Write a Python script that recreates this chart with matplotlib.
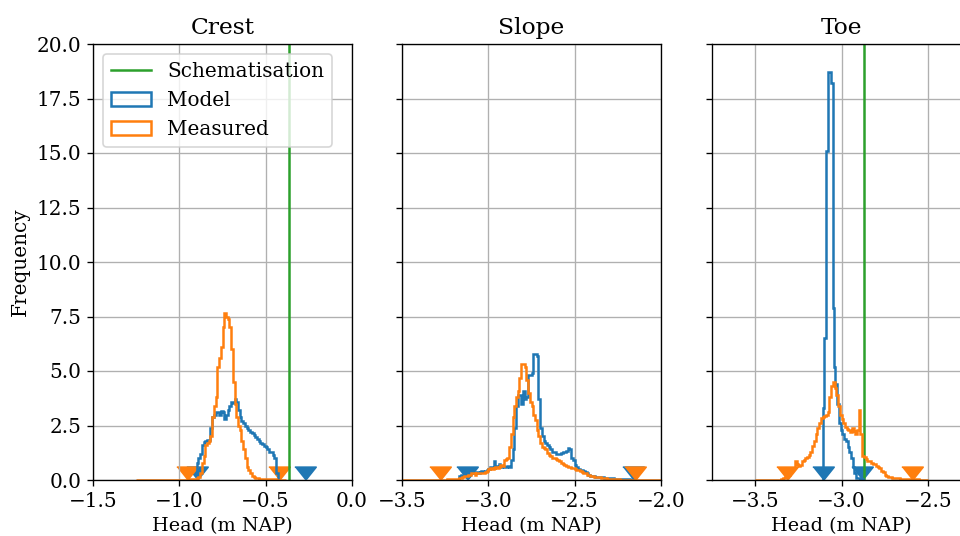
import numpy as np
import matplotlib
matplotlib.use('Agg')
import matplotlib.pyplot as plt

plt.rcParams['font.family'] = ['DejaVu Serif']
plt.rcParams['font.size'] = 12

# panel names and x ranges
panels = ['Crest', 'Slope', 'Toe']
xlims = [(-1.5, 0.0), (-3.5, -2.0), (-3.75, -2.25)]
xticks = [[-1.5, -1.0, -0.5, 0.0], [-3.5, -3.0, -2.5, -2.0], [-3.5, -3.0, -2.5]]
yticks = [0, 2.5, 5, 7.5, 10, 12.5, 15, 17.5, 20]

# schematisation heads (None = outside the plotted range)
schem = [-0.365, None, -2.870]

# histogram heights (density), given as first bin edge, bin width, heights
crest_model_start, crest_model_width = -0.90, 0.01
crest_model = [0.8, 1.0, 1.2, 1.6, 1.75, 1.8, 1.85, 1.85, 2.4, 2.9,
               3.0, 3.1, 3.1, 3.0, 3.15, 3.1, 2.8, 3.0, 3.2, 3.4,
               3.6, 3.55, 3.7, 3.6, 3.2, 2.9, 2.7, 2.6, 2.5, 2.4,
               2.3, 2.2, 2.15, 2.05, 1.95, 1.9, 1.8, 1.7, 1.65, 1.55,
               1.5, 1.4, 1.3, 1.3, 1.15, 1.0, 0.3]

crest_meas_start, crest_meas_width = -1.25, 0.01
crest_meas = ([0.02] * 30 + [0.03, 0.03, 0.04, 0.05, 0.06, 0.08, 0.12] +
              [0.3, 0.8, 1.1, 1.6, 1.7, 1.8, 2.0, 2.9, 3.4, 3.8,
               5.2, 5.6, 6.1, 7.0, 7.65, 7.5, 7.4, 7.0, 6.0, 4.5,
               3.5, 2.9, 2.5, 2.3, 1.8, 1.4, 1.0, 0.6, 0.45, 0.3,
               0.2, 0.15, 0.1, 0.08] +
              [0.06, 0.05, 0.05, 0.04, 0.04, 0.04, 0.03, 0.03,
               0.03, 0.03, 0.02, 0.02, 0.02, 0.02, 0.02, 0.02])

slope_model_start, slope_model_width = -3.17, 0.01
slope_model = ([0.2, 0.25, 0.25, 0.3, 0.3, 0.3, 0.3, 0.3, 0.3, 0.3,
                0.35, 0.3, 0.35, 0.4, 0.35, 0.4, 0.45, 0.5, 0.6, 0.55,
                0.85, 0.65, 0.6, 0.75, 0.6, 0.65, 0.6, 0.6, 0.65, 0.6,
                0.9, 1.4, 2.4, 3.4, 3.9, 3.9, 3.5, 4.1, 3.7, 3.8,
                4.8, 4.8, 4.9, 5.8, 5.8, 5.7, 3.7, 2.4, 2.0, 1.8,
                1.7, 1.6, 1.5, 1.4, 1.3, 1.3, 1.2, 1.2, 1.2, 1.25,
                1.3, 1.3, 1.35, 1.45, 1.4, 1.0, 0.9, 0.7, 0.6, 0.5,
                0.45, 0.45, 0.4, 0.35, 0.3, 0.25, 0.2] +
               [0.18, 0.17, 0.16, 0.15, 0.14, 0.13, 0.12, 0.11, 0.1, 0.09,
                0.08, 0.08, 0.07, 0.06, 0.06, 0.05, 0.05, 0.04, 0.04, 0.03,
                0.03, 0.03, 0.02, 0.02])

slope_meas_start, slope_meas_width = -3.50, 0.01
slope_meas = ([0.02] * 26 + [0.03, 0.03, 0.04, 0.04, 0.05, 0.05, 0.06, 0.08] +
              [0.1, 0.15, 0.2, 0.2, 0.25, 0.25, 0.3, 0.3, 0.25, 0.3,
               0.3, 0.3, 0.3, 0.3, 0.35, 0.4, 0.5, 0.55, 0.5, 0.55,
               0.6, 0.55, 0.6, 0.7, 0.65, 0.9, 0.95, 1.0, 1.5, 2.1,
               2.9, 3.4, 3.8, 4.1, 4.7, 5.3, 5.3, 5.2, 4.6, 4.0,
               3.6, 3.4, 3.0, 2.75, 2.3, 2.0, 1.7, 1.5, 1.45, 1.4,
               1.25, 1.15, 1.1, 1.0, 1.0, 0.95, 0.9, 0.85, 0.8, 0.75,
               0.7, 0.65, 0.6, 0.6, 0.55, 0.55, 0.5, 0.45, 0.45, 0.4,
               0.35, 0.3, 0.3, 0.25, 0.22, 0.2] +
              [0.18, 0.16, 0.15, 0.13, 0.12, 0.1, 0.09, 0.08, 0.07, 0.06] +
              [0.05, 0.05, 0.04, 0.04, 0.04, 0.03] + [0.02] * 24)

toe_model_start, toe_model_width = -3.105, 0.005
toe_model = [3.3, 6.5, 6.5, 15.1, 15.1, 18.7, 18.7, 18.7, 18.7, 18.2,
             18.2, 7.9, 5.2, 5.2, 4.4, 4.4, 3.5, 3.5, 2.6, 2.6,
             2.3, 2.3, 2.1, 2.1, 1.9, 1.9, 1.8, 1.8, 1.5, 1.5,
             1.3, 1.3, 1.0, 1.0, 0.6, 0.6, 0.3, 0.3, 0.1, 0.1,
             0.08, 0.08, 0.05, 0.05, 0.03, 0.03]

toe_meas_start, toe_meas_width = -3.50, 0.01
toe_meas = ([0.02] * 15 + [0.05, 0.08, 0.12, 0.18, 0.25] +
            [0.35, 0.45, 0.55, 0.85, 0.75, 0.65, 0.7, 0.85, 0.9, 1.0,
             1.05, 1.15, 1.3, 1.55, 1.8, 2.1, 2.4, 2.6, 2.85, 2.9,
             2.95, 3.0, 3.1, 3.8, 4.3, 4.5, 4.2, 3.9, 3.4, 3.0,
             2.8, 2.6, 2.45, 2.35, 2.3, 2.2, 2.4, 2.25, 2.1, 2.3,
             3.2, 2.1, 1.1, 1.05, 0.95, 0.85, 0.85, 0.8, 0.75, 0.75,
             0.65, 0.6, 0.55, 0.4, 0.35, 0.25, 0.2, 0.15, 0.12, 0.1] +
            [0.09, 0.08, 0.08, 0.07, 0.06, 0.06, 0.05, 0.05, 0.04, 0.04,
             0.04, 0.03, 0.03, 0.03, 0.03, 0.02, 0.02, 0.02, 0.02, 0.02])

model_hists = [(crest_model_start, crest_model_width, crest_model),
               (slope_model_start, slope_model_width, slope_model),
               (toe_model_start, toe_model_width, toe_model)]
meas_hists = [(crest_meas_start, crest_meas_width, crest_meas),
              (slope_meas_start, slope_meas_width, slope_meas),
              (toe_meas_start, toe_meas_width, toe_meas)]

# lower / upper bounds shown as triangles on the x axis
model_bounds = [[-0.898, -0.272], [-3.125, -2.160], [-3.105, -2.880]]
meas_bounds = [[-0.956, -0.423], [-3.280, -2.151], [-3.314, -2.594]]

# triangle with its tip at the data point
tri = [(-1, 1.25), (1, 1.25), (0, 0)]

fig = plt.figure(figsize=(8, 536 / 120), dpi=120)
lefts = [93 / 960, 402 / 960, 712 / 960]
axes = []
for i, name in enumerate(panels):
    kw = {} if i == 0 else {'sharey': axes[0]}
    ax = fig.add_axes([lefts[i], 56 / 536, 259 / 960, 436 / 536], **kw)
    axes.append(ax)

    if schem[i] is not None:
        ax.axvline(schem[i], color='tab:green', lw=1.5, label='Schematisation')

    for (start, width, h), col, lab in [(model_hists[i], 'tab:blue', 'Model'),
                                        (meas_hists[i], 'tab:orange', 'Measured')]:
        h = np.array(h)
        edges = start + width * np.arange(len(h) + 1)
        centers = 0.5 * (edges[:-1] + edges[1:])
        ax.hist(centers, bins=edges, weights=h, histtype='step',
                color=col, lw=1.5, label=lab)

    ax.plot(model_bounds[i], [0, 0], ls='none', marker=tri, ms=16,
            color='tab:blue', zorder=0.9)
    ax.plot(meas_bounds[i], [0, 0], ls='none', marker=tri, ms=16,
            color='tab:orange', zorder=0.95)

    ax.set_xlim(*xlims[i])
    ax.set_xticks(xticks[i])
    ax.set_ylim(0, 20)
    ax.set_yticks(yticks)
    ax.grid(True)
    ax.set_title(name, fontsize=14)
    ax.set_xlabel('Head (m NAP)', fontsize=11.5)
    if i == 0:
        ax.set_ylabel('Frequency')
        ax.legend(loc='upper left')
    else:
        ax.tick_params(labelleft=False)

fig.savefig('out.png', dpi=120)
